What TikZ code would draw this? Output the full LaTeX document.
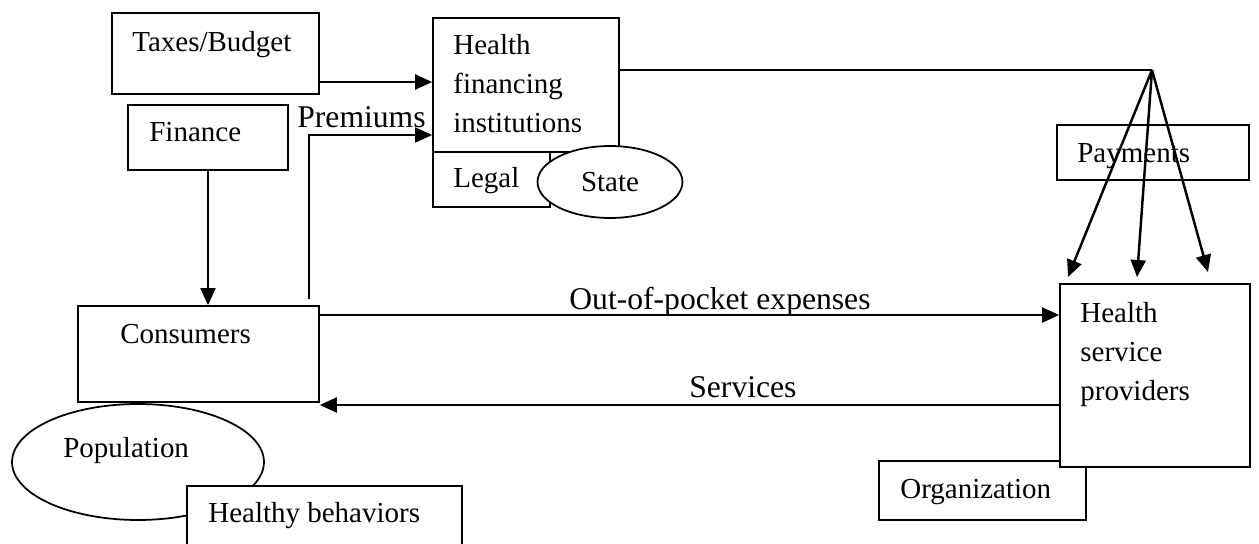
\documentclass[tikz,border=0pt]{standalone}
\usepackage{fontspec}
\setmainfont{Liberation Serif}
\usetikzlibrary{arrows.meta,shapes.geometric}

\begin{document}
\begin{tikzpicture}[x=0.02cm, y=-0.02cm,
	box/.style={draw, line width=1pt, fill=white, inner sep=0pt},
	oval/.style={ellipse, draw, line width=1pt, fill=white, inner sep=0pt, font=\fontsize{16.5}{20}\selectfont},
	txt/.style={inner sep=0pt, anchor=base west, font=\fontsize{16.5}{22.2}\selectfont},
	big/.style={inner sep=0pt, anchor=base west, font=\fontsize{18}{22}\selectfont},
	link/.style={->, line width=1.2pt},
	>={Triangle[length=3.4mm, width=3mm]}]
	\useasboundingbox (0,0) rectangle (1259,544);
	\clip (0,0) rectangle (1259,544);
	% financing side
	\node[box, minimum width=4.14cm, minimum height=1.62cm] (taxes) at (215.5,53.5) {};
	\node[txt] (taxesT) at (132,52) {Taxes/Budget};
	\node[box, minimum width=3.72cm, minimum height=2.68cm] (hfin) at (526,85) {};
	\node[txt, anchor=north west, align=left] (hfinT) at (453,34.5) {Health\\financing\\institutions};
	\node[box, minimum width=2.34cm, minimum height=1.10cm] (legal) at (491.5,179.5) {};
	\node[txt] (legalT) at (453,188) {Legal};
	\node[oval, minimum width=2.90cm, minimum height=1.44cm] (state) at (610,182) {State};
	\node[box, minimum width=3.20cm, minimum height=1.30cm] (finance) at (208,137.5) {};
	\node[txt] (financeT) at (149,142) {Finance};
	% consumers side
	\node[box, minimum width=4.82cm, minimum height=1.92cm] (consumers) at (198.5,354) {};
	\node[txt] (consumersT) at (120,343) {Consumers};
	\node[oval, minimum width=5.04cm, minimum height=2.32cm] (population) at (138,462) {};
	\node[txt] (populationT) at (63,457) {Population};
	\node[box, minimum width=5.50cm, minimum height=1.68cm] (healthy) at (324.5,528) {};
	\node[txt] (healthyT) at (208,522) {Healthy behaviors};
	% providers side
	\node[box, minimum width=3.84cm, minimum height=1.10cm] (payments) at (1153,152.5) {};
	\node[txt] (paymentsT) at (1077,163) {Payments};
	\node[box, minimum width=4.14cm, minimum height=1.18cm] (org) at (982.5,490.5) {};
	\node[txt] (orgT) at (900,498) {Organization};
	\node[box, minimum width=3.80cm, minimum height=3.66cm] (hsp) at (1155,375.5) {};
	\node[txt, anchor=north west, align=left] (hspT) at (1080,302.5) {Health\\service\\providers};
	% money and service flows
	\draw[link] (taxes.east |- 0,82) -- (hfin.west |- 0,82);
	\draw[link] (finance.south) -- (finance.south |- consumers.north);
	\coordinate (premStart) at (309,299);
	\draw[link, line width=1pt] (premStart) |- (hfin.west |- 0,135);
	\node[big] (premT) at (297,128) {Premiums};
	\draw[link] (consumers.east |- 0,315) -- (hsp.west |- 0,315);
	\node[big] (oopT) at (569,310) {Out-of-pocket expenses};
	\draw[link] (hsp.west |- 0,405) -- (consumers.east |- 0,405);
	\node[big] (servT) at (689,398) {Services};
	% payments fan
	\coordinate (apex) at (1152,70);
	\coordinate (tipA) at (1068,277);
	\coordinate (tipB) at (1137,277);
	\coordinate (tipC) at (1208,272);
	\draw[line width=1pt] (hfin.east |- apex) -- (apex);
	\foreach \t in {tipA,tipB,tipC}
		\draw[link, line width=1.4pt] (apex) -- (\t);
\end{tikzpicture}
\end{document}
